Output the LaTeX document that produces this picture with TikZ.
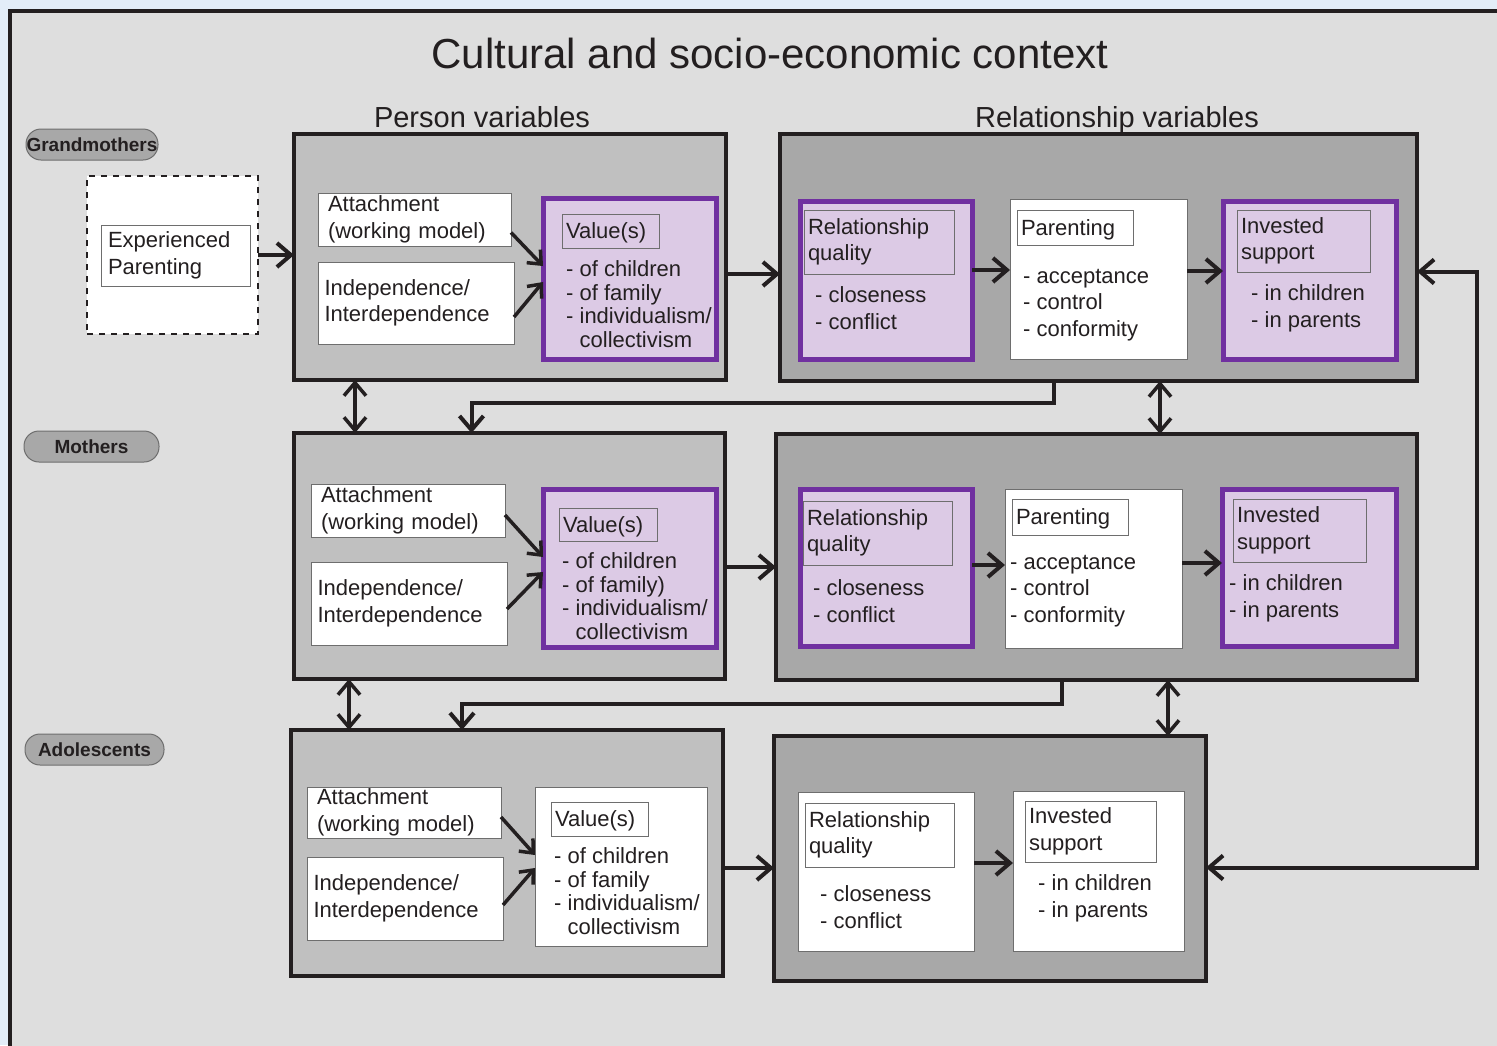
\documentclass[tikz,border=0pt]{standalone}
\usepackage{fontspec}
\setmainfont{Liberation Sans}
\usetikzlibrary{arrows.meta}
\newcommand{\fsz}[2]{\fontsize{#1}{#2}\selectfont}
\definecolor{pagebg}{HTML}{E3EDF8}
\definecolor{framebg}{HTML}{DEDEDE}
\definecolor{pgray}{HTML}{C0C0C0}
\definecolor{rgray}{HTML}{A8A8A8}
\definecolor{vpurple}{HTML}{7030A0}
\definecolor{vlilac}{HTML}{DCCAE5}
\definecolor{edgegray}{HTML}{6E6E6E}
\definecolor{inkblack}{HTML}{231F20}
\tikzset{
  blk/.style={anchor=north west, inner sep=0pt, outer sep=0pt},
  pbox/.style={blk, draw=inkblack, line width=3.5pt, fill=pgray},
  rbox/.style={blk, draw=inkblack, line width=3.5pt, fill=rgray},
  wbox/.style={blk, draw=edgegray, line width=1pt, fill=white, align=left},
  vbox/.style={blk, draw=vpurple, line width=5pt, fill=vlilac},
  tag/.style={blk, draw=edgegray, line width=1pt, align=left, inner xsep=4pt},
  tag1/.style={tag, text depth=0pt}, % one-line tag
  dashbox/.style={blk, draw=inkblack, line width=2pt, fill=white, dash pattern=on 6pt off 6pt},
  pill/.style={blk, draw=edgegray, fill=rgray, line width=1pt, rounded corners=15pt,
    minimum height=31pt, font=\bfseries\fsz{19}{22}},
  txt/.style={anchor=base west, inner sep=0pt, align=left}, % base = last line
  arr/.style={line width=4pt, draw=inkblack, -{Straight Barb[length=14pt,width=24pt]}},
  darr/.style={line width=3.5pt, draw=inkblack, {Straight Barb[length=13pt,width=22pt]}-{Straight Barb[length=13pt,width=22pt]}},
  sarr/.style={line width=3.5pt, draw=inkblack, -{Straight Barb[length=11pt,width=19pt]}}
}
\begin{document}
\begin{tikzpicture}[x=1pt, y=-1pt, font=\fsz{22}{26.5}, text=inkblack]
  \useasboundingbox (0,0) rectangle (1497,1045);
  \fill[pagebg] (0,0) rectangle (1497,1045);
  \draw[line width=4pt, draw=inkblack, fill=framebg] (10,11) rectangle (1530,1080);
  % headings
  \node[anchor=base, inner sep=0pt, font=\fsz{42}{48}] (title) at (770,68) {Cultural and socio-economic context};
  \node[anchor=base, inner sep=0pt, font=\fsz{29}{34}] (perhd) at (482,127) {Person variables};
  \node[anchor=base, inner sep=0pt, font=\fsz{29}{34}] (relhd) at (1117,127) {Relationship variables};
  % generation labels
  \node[pill, minimum width=132pt] (gm) at (26,129) {Grandmothers};
  \node[pill, minimum width=135pt] (mo) at (24,431) {Mothers};
  \node[pill, minimum width=139pt] (ad) at (25,734) {Adolescents};
  % grandmothers
  \node[dashbox, minimum width=171pt, minimum height=158pt] (dash1) at (87,176) {};
  \node[tag, minimum width=149pt, minimum height=61pt, text width=135pt, inner xsep=7pt, fill=white] (exp) at (101,225) {Experienced\\Parenting};
  \node[pbox, minimum width=432pt, minimum height=246pt] (p1) at (294,134) {};
  \node[wbox, minimum width=193pt, minimum height=53pt, text width=173pt, inner xsep=10pt] (att1) at (318,193) {Attachment\\(working model)};
  \node[wbox, minimum width=196pt, minimum height=82pt, text width=183pt, inner xsep=6.5pt] (ind1) at (318,262) {Independence/\\Interdependence};
  \node[vbox, minimum width=173pt, minimum height=161pt] (val1) at (543,198) {};
  \node[tag1, minimum width=97pt, minimum height=34pt, text width=89pt] (vt1) at (562,214) {Value(s)};
  \node[txt, font=\fsz{22}{23.5}] (vl1) at (566,347) {- of children\\- of family\\- individualism/\\\hphantom{- }collectivism};
  \node[rbox, minimum width=637pt, minimum height=247pt] (r1) at (780,134) {};
  \node[vbox, minimum width=172pt, minimum height=158pt] (rq1) at (800,201) {};
  \node[tag, minimum width=150pt, minimum height=64pt, text width=142pt] (rqt1) at (804,210) {Relationship\\quality};
  \node[txt] (rql1) at (815,329) {- closeness\\- conflict};
  \node[wbox, minimum width=177pt, minimum height=160pt] (par1) at (1010,199) {};
  \node[tag1, minimum width=116pt, minimum height=35pt, text width=108pt] (part1) at (1017,210) {Parenting};
  \node[txt] (parl1) at (1023,336) {- acceptance\\- control\\- conformity};
  \node[vbox, minimum width=173pt, minimum height=158pt] (inv1) at (1223,201) {};
  \node[tag, minimum width=133pt, minimum height=62pt, text width=125pt] (invt1) at (1237,210) {Invested\\support};
  \node[txt] (invl1) at (1251,327) {- in children\\- in parents};
  % mothers
  \node[pbox, minimum width=431pt, minimum height=246pt] (p2) at (294,433) {};
  \node[wbox, minimum width=194pt, minimum height=53pt, text width=174pt, inner xsep=10pt] (att2) at (311,484) {Attachment\\(working model)};
  \node[wbox, minimum width=196pt, minimum height=83pt, text width=183pt, inner xsep=6.5pt] (ind2) at (311,562) {Independence/\\Interdependence};
  \node[vbox, minimum width=173pt, minimum height=158pt] (val2) at (543,489) {};
  \node[tag1, minimum width=98pt, minimum height=33pt, text width=90pt] (vt2) at (559,508) {Value(s)};
  \node[txt, font=\fsz{22}{23.5}] (vl2) at (562,639) {- of children\\- of family)\\- individualism/\\\hphantom{- }collectivism};
  \node[rbox, minimum width=641pt, minimum height=246pt] (r2) at (776,434) {};
  \node[vbox, minimum width=172pt, minimum height=157pt] (rq2) at (800,489) {};
  \node[tag, minimum width=149pt, minimum height=64pt, text width=141pt] (rqt2) at (803,501) {Relationship\\quality};
  \node[txt] (rql2) at (813,622) {- closeness\\- conflict};
  \node[wbox, minimum width=177pt, minimum height=159pt] (par2) at (1005,489) {};
  \node[tag1, minimum width=116pt, minimum height=36pt, text width=108pt] (part2) at (1012,499) {Parenting};
  \node[txt] (parl2) at (1010,622) {- acceptance\\- control\\- conformity};
  \node[vbox, minimum width=174pt, minimum height=157pt] (inv2) at (1222,489) {};
  \node[tag, minimum width=133pt, minimum height=63pt, text width=125pt] (invt2) at (1233,499) {Invested\\support};
  \node[txt] (invl2) at (1229,617) {- in children\\- in parents};
  % adolescents
  \node[pbox, minimum width=432pt, minimum height=246pt] (p3) at (291,730) {};
  \node[wbox, minimum width=194pt, minimum height=51pt, text width=174pt, inner xsep=10pt] (att3) at (307,787) {Attachment\\(working model)};
  \node[wbox, minimum width=196pt, minimum height=83pt, text width=183pt, inner xsep=6.5pt] (ind3) at (307,857) {Independence/\\Interdependence};
  \node[wbox, minimum width=172pt, minimum height=159pt] (val3) at (535,787) {};
  \node[tag1, minimum width=97pt, minimum height=34pt, text width=89pt] (vt3) at (551,802) {Value(s)};
  \node[txt, font=\fsz{22}{23.5}] (vl3) at (554,934) {- of children\\- of family\\- individualism/\\\hphantom{- }collectivism};
  \node[rbox, minimum width=432pt, minimum height=245pt] (r3) at (774,736) {};
  \node[wbox, minimum width=176pt, minimum height=159pt] (rq3) at (798,792) {};
  \node[tag, minimum width=149pt, minimum height=64pt, text width=141pt] (rqt3) at (805,803) {Relationship\\quality};
  \node[txt] (rql3) at (820,928) {- closeness\\- conflict};
  \node[wbox, minimum width=171pt, minimum height=160pt] (inv3) at (1013,791) {};
  \node[tag, minimum width=131pt, minimum height=61pt, text width=123pt] (invt3) at (1025,801) {Invested\\support};
  \node[txt] (invl3) at (1038,917) {- in children\\- in parents};
  \coordinate (fbx) at (1477,600);
  % arrows within rows
  \draw[arr] (dash1.east) -- (dash1.east -| p1.west);
  \draw[sarr] ([yshift=-13pt]att1.east) -- ([yshift=12.5pt]val1.west);
  \draw[sarr] ([yshift=-14pt]ind1.east) -- ([yshift=-3.5pt]val1.west);
  \draw[arr] ([yshift=-17pt]p1.east) -- ([yshift=-17pt]p1.east -| r1.west);
  \draw[arr] ([yshift=10pt]rq1.east) -- ([yshift=10pt]rq1.east -| par1.west);
  \draw[arr] ([yshift=8pt]par1.east) -- ([yshift=8pt]par1.east -| inv1.west);
  \draw[sarr] ([yshift=-4.5pt]att2.east) -- ([yshift=11pt]val2.west);
  \draw[sarr] ([yshift=-5.5pt]ind2.east) -- ([yshift=-4pt]val2.west);
  \draw[arr] ([yshift=-11pt]p2.east) -- ([yshift=-11pt]p2.east -| r2.west);
  \draw[arr] ([yshift=2.5pt]rq2.east) -- ([yshift=2.5pt]rq2.east -| par2.west);
  \draw[arr] ([yshift=5.5pt]par2.east) -- ([yshift=5.5pt]par2.east -| inv2.west);
  \draw[sarr] ([yshift=-4.5pt]att3.east) -- ([yshift=11.5pt]val3.west);
  \draw[sarr] ([yshift=-6.5pt]ind3.east) -- ([yshift=-1.5pt]val3.west);
  \draw[arr] ([yshift=-15pt]p3.east) -- ([yshift=-15pt]p3.east -| r3.west);
  \draw[arr] ([yshift=8.5pt]rq3.east) -- ([yshift=8.5pt]rq3.east -| inv3.west);
  % arrows between generations
  \draw[darr] ([xshift=-155pt]p1.south) -- ([xshift=-155pt]p1.south |- p2.north);
  \draw[darr] ([xshift=61.5pt]r1.south) -- ([xshift=61.5pt]r1.south |- r2.north);
  \draw[darr] ([xshift=-160.5pt]p2.south) -- ([xshift=-160.5pt]p2.south |- p3.north);
  \draw[darr] ([xshift=71.5pt]r2.south) -- ([xshift=71.5pt]r2.south |- r3.north);
  \draw[arr] ([xshift=-45pt]r1.south) -- ++(0,22) -| ([xshift=-38pt]p2.north);
  \draw[arr] ([xshift=-34.5pt]r2.south) -- ++(0,24) -| ([xshift=-45pt]p3.north);
  \draw[arr, {Straight Barb[length=14pt,width=24pt]}-{Straight Barb[length=14pt,width=24pt]}]
    ([yshift=-14pt]r1.east) -- ([yshift=-14pt]r1.east -| fbx) |- ([yshift=-9pt]r3.east);
\end{tikzpicture}
\end{document}
